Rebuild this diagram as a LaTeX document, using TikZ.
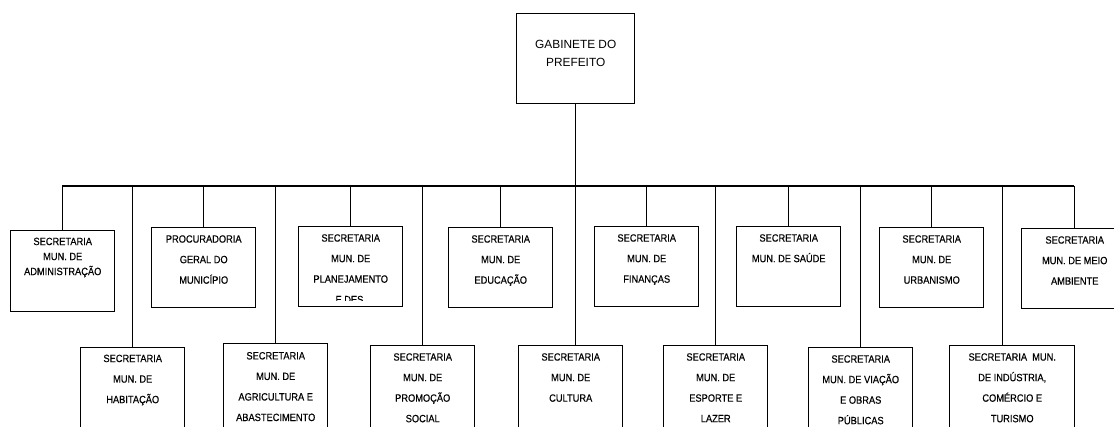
\documentclass[tikz,border=0pt]{standalone}
\usepackage{fontspec}
\setmainfont{Liberation Sans}
\newfontfamily\orgfont[FakeStretch=0.88,FakeBold=0.4]{Liberation Sans}

\begin{document}
\begin{tikzpicture}[x={(0.75pt,0pt)},y={(0pt,-0.75pt)},
	orgbox/.style={draw,line width=1.1pt,minimum width=78pt,minimum height=60pt,inner sep=0pt,anchor=north west},
	lowbox/.style={orgbox,minimum height=75pt},
	orgtxt/.style={anchor=north,align=center,inner sep=0pt,font=\orgfont\fontsize{7.9}{15.4}\selectfont},
	link/.style={line width=1.1pt}]
	\useasboundingbox (0,0) rectangle (1114,427);
	% Gabinete
	\node[orgbox,minimum width=88.5pt,minimum height=67.5pt] (gab) at (516,13) {};
	\node[orgtxt,font=\fontsize{8.9}{13.5}\selectfont] (gabtxt) at ([yshift=-20pt]gab.north) {GABINETE DO\\PREFEITO};
	% upper row
	\node[orgbox,minimum height=60.75pt] (adm) at (10,230) {};
	\node[orgbox] (proc) at (151,227) {};
	\node[orgbox] (plan) at (298,226) {};
	\node[orgbox] (edu) at (448,227) {};
	\node[orgbox] (fin) at (594,226) {};
	\node[orgbox] (sau) at (736,226) {};
	\node[orgbox] (urb) at (879,227) {};
	\node[orgbox,minimum width=79.5pt] (meio) at (1021,228) {};
	% lower row
	\node[lowbox] (hab) at (80,347) {};
	\node[lowbox] (agr) at (223,343) {};
	\node[lowbox] (pro) at (370,345) {};
	\node[lowbox] (cul) at (518,345) {};
	\node[lowbox] (esp) at (663,345) {};
	\node[lowbox] (via) at (808,347) {};
	\node[lowbox,minimum width=93.75pt] (ind) at (949,345) {};

	% texts
	\node[orgtxt,font=\orgfont\fontsize{7.9}{11.25}\selectfont] (admtxt) at ([yshift=-5.6pt]adm.north) {SECRETARIA\\MUN. DE\\ADMINISTRAÇÃO};
	\node[orgtxt] (proctxt) at ([yshift=-6pt]proc.north) {PROCURADORIA\\GERAL DO\\MUNICÍPIO};
	\begin{scope}
		\clip ([yshift=5pt]plan.south west) rectangle (plan.north east);
		\node[orgtxt] (plantxt) at ([yshift=-6pt]plan.north) {SECRETARIA\\MUN. DE\\PLANEJAMENTO\\E DES.};
	\end{scope}
	\node[orgtxt] (edutxt) at ([yshift=-6pt]edu.north) {SECRETARIA\\MUN. DE\\EDUCAÇÃO};
	\node[orgtxt] (fintxt) at ([yshift=-6pt]fin.north) {SECRETARIA\\MUN. DE\\FINANÇAS};
	\node[orgtxt] (sautxt) at ([yshift=-6pt]sau.north) {SECRETARIA\\MUN. DE SAÚDE};
	\node[orgtxt] (urbtxt) at ([yshift=-6pt]urb.north) {SECRETARIA\\MUN. DE\\URBANISMO};
	\node[orgtxt] (meiotxt) at ([yshift=-6pt]meio.north) {SECRETARIA\\MUN. DE MEIO\\AMBIENTE};
	\node[orgtxt] (habtxt) at ([yshift=-5.6pt]hab.north) {SECRETARIA\\MUN. DE\\HABITAÇÃO};
	\node[orgtxt] (agrtxt) at ([yshift=-6.6pt]agr.north) {SECRETARIA\\MUN. DE\\AGRICULTURA E\\ABASTECIMENTO};
	\node[orgtxt] (protxt) at ([yshift=-6pt]pro.north) {SECRETARIA\\MUN. DE\\PROMOÇÃO\\SOCIAL};
	\node[orgtxt] (cultxt) at ([yshift=-6pt]cul.north) {SECRETARIA\\MUN. DE\\CULTURA};
	\node[orgtxt] (esptxt) at ([yshift=-6pt]esp.north) {SECRETARIA\\MUN. DE\\ESPORTE E\\LAZER};
	\node[orgtxt] (viatxt) at ([yshift=-6pt]via.north) {SECRETARIA\\MUN. DE VIAÇÃO\\E OBRAS\\PÚBLICAS};
	\node[orgtxt] (indtxt) at ([yshift=-6pt]ind.north) {SECRETARIA\ \ MUN.\\DE INDÚSTRIA,\\COMÉRCIO E\\TURISMO};

	% lines
	\coordinate (busl) at (62,186);
	\coordinate (busr) at (1074,186);
	\coordinate (indtop) at ([xshift=-7.125pt]ind.north);
	\draw[link] (busl) -- (busr);
	\draw[link] (gab.south) -- (gab.south |- cul.north);
	\foreach \b in {adm,proc,plan,edu,fin,sau,urb,meio,hab,agr,pro,esp,via}
		\draw[link] (\b.north |- busl) -- (\b.north);
	\draw[link] (indtop |- busl) -- (indtop);
\end{tikzpicture}
\end{document}
